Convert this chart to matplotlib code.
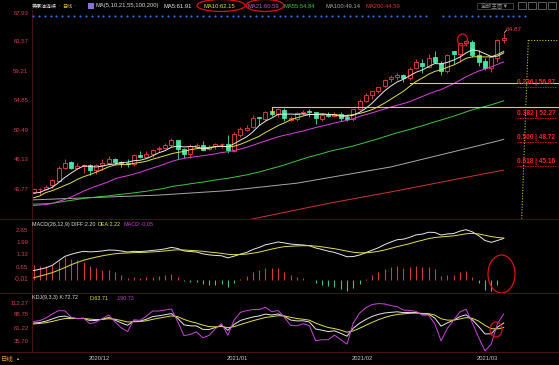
import numpy as np
import matplotlib
matplotlib.use('Agg')
import matplotlib.pyplot as plt
from matplotlib.patches import Rectangle, Ellipse
from matplotlib.lines import Line2D
from matplotlib.transforms import blended_transform_factory as btf

W, H = 559, 365
plt.rcParams['font.family'] = ['Liberation Sans', 'Noto Sans CJK SC', 'DejaVu Sans']

dates = (['2020/11/%02d' % d for d in (18, 19, 20, 23, 24, 25, 26, 27, 30)] +
         ['2020/12/%02d' % d for d in (1, 2, 3, 4, 7, 8, 9, 10, 11, 14, 15, 16, 17, 18, 21, 22, 23, 24, 28, 29, 30, 31)] +
         ['2021/01/%02d' % d for d in (4, 5, 6, 7, 8, 11, 12, 13, 14, 15, 18, 19, 20, 21, 22, 25, 26, 27, 28, 29)] +
         ['2021/02/%02d' % d for d in (1, 2, 3, 4, 5, 8, 9, 10, 11, 12, 15, 16, 17, 18, 19, 22, 23, 24, 25, 26)] +
         ['2021/03/%02d' % d for d in (1, 2, 3, 4, 5)])

opens = [41.43, 41.74, 41.77, 42.32, 43.04, 44.89, 45.75, 44.95, 45.20, 45.28, 44.57, 45.32, 45.71, 46.22, 45.76,
         45.61, 45.49, 46.80, 46.55, 47.00, 47.66, 47.84, 48.32, 49.00, 47.74, 46.93, 48.05, 48.27, 47.69, 48.09,
         48.38, 48.40, 47.40, 49.82, 50.52, 50.93, 52.45, 52.21, 53.33, 52.89, 53.48, 52.00, 52.11, 53.05, 53.31,
         53.19, 52.21, 52.72, 52.63, 52.90, 52.48, 52.21, 53.60, 54.78, 55.74, 56.29, 57.04, 58.05, 58.34, 58.67,
         58.27, 59.70, 60.40, 59.90, 61.24, 60.40, 59.23, 62.20, 61.74, 63.33, 63.55, 61.64, 60.70, 59.70, 61.19, 63.85]
highs = [42.00, 41.92, 42.42, 43.31, 45.20, 46.26, 45.95, 45.60, 45.56, 45.51, 45.56, 46.22, 46.63, 46.34, 45.95,
         46.16, 47.00, 47.39, 47.42, 47.75, 48.12, 48.59, 49.28, 49.09, 47.87, 48.50, 48.58, 48.96, 48.36, 48.58,
         48.59, 49.83, 50.20, 50.94, 51.28, 52.75, 52.48, 53.35, 53.93, 53.75, 53.77, 52.60, 53.18, 53.53, 53.58,
         53.19, 53.06, 53.22, 53.18, 53.13, 52.93, 53.69, 55.05, 55.95, 56.33, 56.94, 58.09, 58.62, 58.91, 58.87,
         59.82, 60.95, 60.95, 61.73, 62.26, 60.74, 61.77, 62.24, 63.38, 63.81, 63.79, 62.41, 61.21, 61.61, 64.00, 64.87]
lows = [41.20, 40.92, 41.61, 41.96, 42.93, 44.72, 44.80, 44.82, 44.20, 43.92, 43.96, 44.59, 45.35, 45.39, 45.08,
        45.10, 45.27, 46.34, 46.31, 46.60, 47.24, 47.70, 47.99, 46.16, 46.41, 46.42, 47.93, 47.50, 47.50, 47.76,
        47.93, 47.18, 47.26, 49.52, 50.40, 50.81, 51.28, 51.90, 52.62, 52.45, 51.90, 51.80, 51.79, 52.71, 52.45,
        51.44, 51.82, 52.38, 52.37, 51.92, 51.88, 51.88, 53.43, 54.59, 55.07, 56.05, 56.92, 57.67, 57.88, 57.66,
        57.89, 59.57, 59.00, 59.63, 60.47, 58.59, 58.98, 60.34, 60.60, 62.93, 61.32, 59.93, 59.41, 59.06, 60.63, 63.45]
closes = [41.82, 41.74, 42.15, 43.06, 44.91, 45.71, 44.92, 45.15, 45.34, 44.55, 45.28, 45.64, 46.26, 45.76, 45.60,
          45.52, 46.78, 46.57, 46.99, 47.62, 47.82, 48.36, 49.10, 47.74, 47.02, 48.12, 48.23, 47.62, 48.00, 48.40,
          48.52, 47.62, 49.93, 50.63, 50.83, 52.24, 52.25, 53.21, 52.91, 53.57, 52.36, 52.35, 52.98, 53.24, 53.13,
          52.27, 52.77, 52.61, 52.85, 52.34, 52.20, 53.55, 54.76, 55.69, 56.23, 56.85, 57.97, 58.36, 58.68, 58.24,
          59.47, 60.50, 60.05, 61.14, 60.52, 59.24, 61.60, 61.75, 63.35, 63.60, 61.65, 60.64, 59.75, 61.28, 63.83, 64.05]

ma5 = [41.17, 41.29, 41.70, 42.04, 42.74, 43.51, 44.15, 44.75, 45.21, 45.13, 45.05, 45.19, 45.41, 45.50, 45.71,
       45.76, 45.98, 46.05, 46.29, 46.70, 47.16, 47.47, 47.98, 48.13, 48.01, 48.07, 48.04, 47.75, 47.80, 48.07,
       48.15, 48.03, 48.49, 49.02, 49.51, 50.25, 51.18, 51.83, 52.29, 52.84, 52.86, 52.88, 52.83, 52.90, 52.81,
       52.79, 52.88, 52.80, 52.73, 52.57, 52.55, 52.71, 53.14, 53.71, 54.49, 55.42, 56.30, 57.02, 57.62, 58.02,
       58.54, 59.05, 59.39, 59.88, 60.34, 60.29, 60.51, 60.85, 61.29, 61.91, 62.39, 62.20, 61.80, 61.38, 61.43, 61.91]
ma10 = [40.49, 40.78, 41.28, 41.56, 41.92, 42.34, 42.72, 43.22, 43.62, 43.93, 44.28, 44.67, 45.08, 45.35, 45.42,
        45.40, 45.59, 45.73, 45.90, 46.20, 46.46, 46.73, 47.01, 47.21, 47.35, 47.61, 47.76, 47.86, 47.96, 48.04,
        48.11, 48.04, 48.12, 48.41, 48.79, 49.20, 49.60, 50.16, 50.65, 51.17, 51.56, 52.03, 52.33, 52.59, 52.82,
        52.83, 52.88, 52.82, 52.81, 52.69, 52.67, 52.79, 52.97, 53.22, 53.53, 53.98, 54.50, 55.08, 55.66, 56.25,
        56.98, 57.68, 58.20, 58.75, 59.18, 59.42, 59.78, 60.12, 60.59, 61.12, 61.34, 61.35, 61.32, 61.34, 61.67, 62.15]
ma21 = [39.36, 39.44, 39.51, 39.66, 39.97, 40.26, 40.62, 41.04, 41.50, 41.87, 42.23, 42.54, 42.89, 43.31, 43.56,
        43.76, 44.01, 44.27, 44.60, 44.90, 45.20, 45.51, 45.86, 46.13, 46.32, 46.47, 46.59, 46.72, 46.85, 47.00,
        47.19, 47.30, 47.50, 47.71, 47.95, 48.27, 48.59, 48.90, 49.20, 49.51, 49.74, 49.95, 50.17, 50.37, 50.63,
        50.88, 51.10, 51.31, 51.56, 51.76, 51.94, 52.18, 52.52, 52.80, 53.06, 53.35, 53.62, 53.91, 54.17, 54.43,
        54.71, 55.10, 55.46, 55.85, 56.20, 56.49, 56.93, 57.36, 57.87, 58.39, 58.83, 59.23, 59.53, 59.84, 60.22, 60.59]
ma55 = [39.57, 39.58, 39.62, 39.69, 39.84, 39.98, 40.12, 40.26, 40.41, 40.52, 40.61, 40.70, 40.79, 40.91, 41.02,
        41.12, 41.23, 41.35, 41.47, 41.62, 41.76, 41.93, 42.15, 42.30, 42.42, 42.57, 42.70, 42.82, 42.98, 43.13,
        43.26, 43.39, 43.55, 43.72, 43.89, 44.11, 44.32, 44.57, 44.83, 45.08, 45.35, 45.65, 45.96, 46.26, 46.54,
        46.78, 47.03, 47.31, 47.54, 47.74, 47.94, 48.16, 48.43, 48.69, 48.96, 49.23, 49.53, 49.82, 50.11, 50.35,
        50.60, 50.88, 51.15, 51.44, 51.73, 51.99, 52.28, 52.56, 52.88, 53.20, 53.50, 53.75, 53.99, 54.25, 54.54, 54.84]
ma100 = [40.20, 40.23, 40.27, 40.30, 40.34, 40.38, 40.41, 40.45, 40.48, 40.52, 40.55, 40.59, 40.62, 40.66, 40.69,
         40.73, 40.76, 40.80, 40.83, 40.87, 40.90, 40.96, 41.02, 41.08, 41.14, 41.20, 41.26, 41.32, 41.38, 41.44,
         41.50, 41.56, 41.66, 41.76, 41.86, 41.96, 42.06, 42.16, 42.26, 42.36, 42.46, 42.56, 42.66, 42.82, 42.98,
         43.14, 43.30, 43.46, 43.62, 43.78, 43.94, 44.10, 44.26, 44.42, 44.58, 44.74, 44.90, 45.06, 45.29, 45.51,
         45.74, 45.96, 46.19, 46.41, 46.64, 46.86, 47.09, 47.31, 47.54, 47.76, 47.99, 48.21, 48.44, 48.66, 48.89, 49.14]
ma200 = [34.60, 34.68, 34.76, 34.83, 34.91, 34.99, 35.07, 35.15, 35.22, 35.30, 35.38, 35.46, 35.54, 35.61, 35.69,
         35.77, 35.85, 35.93, 36.00, 36.08, 36.16, 36.24, 36.32, 36.39, 36.47, 36.55, 36.63, 36.71, 36.78, 36.86,
         36.94, 37.02, 37.10, 37.17, 37.20, 37.39, 37.58, 37.77, 37.96, 38.15, 38.34, 38.53, 38.72, 38.91, 39.10,
         39.29, 39.48, 39.67, 39.84, 40.01, 40.18, 40.35, 40.52, 40.69, 40.86, 41.03, 41.20, 41.37, 41.55, 41.73,
         41.91, 42.09, 42.27, 42.45, 42.63, 42.81, 42.99, 43.17, 43.35, 43.53, 43.71, 43.89, 44.07, 44.25, 44.42, 44.59]

diff = [0.48, 0.55, 0.63, 0.76, 1.00, 1.24, 1.35, 1.44, 1.51, 1.48, 1.50, 1.53, 1.58, 1.57, 1.53, 1.47, 1.51, 1.50,
        1.52, 1.56, 1.59, 1.64, 1.72, 1.66, 1.53, 1.50, 1.47, 1.38, 1.32, 1.29, 1.27, 1.16, 1.25, 1.36, 1.45, 1.61,
        1.72, 1.86, 1.93, 2.01, 1.96, 1.90, 1.87, 1.85, 1.81, 1.69, 1.61, 1.52, 1.45, 1.34, 1.22, 1.23, 1.31, 1.44,
        1.57, 1.70, 1.87, 2.01, 2.13, 2.16, 2.26, 2.39, 2.43, 2.53, 2.52, 2.38, 2.44, 2.46, 2.59, 2.67, 2.55, 2.35,
        2.09, 1.99, 2.09, 2.20]
dea = [0.09, 0.18, 0.27, 0.37, 0.50, 0.64, 0.79, 0.92, 1.03, 1.12, 1.20, 1.27, 1.33, 1.38, 1.41, 1.42, 1.44, 1.45,
       1.46, 1.48, 1.50, 1.53, 1.57, 1.59, 1.58, 1.56, 1.54, 1.51, 1.47, 1.44, 1.40, 1.35, 1.33, 1.34, 1.36, 1.41,
       1.47, 1.55, 1.63, 1.70, 1.76, 1.78, 1.80, 1.81, 1.81, 1.79, 1.75, 1.70, 1.65, 1.59, 1.52, 1.46, 1.43, 1.43,
       1.46, 1.51, 1.58, 1.67, 1.76, 1.84, 1.92, 2.02, 2.10, 2.19, 2.25, 2.28, 2.31, 2.34, 2.39, 2.45, 2.47, 2.44,
       2.37, 2.30, 2.25, 2.22]
macd = [0.78, 0.74, 0.72, 0.78, 1.00, 1.20, 1.12, 1.04, 0.96, 0.72, 0.60, 0.52, 0.50, 0.38, 0.24, 0.10, 0.14, 0.10,
        0.12, 0.16, 0.18, 0.22, 0.30, 0.14, -0.10, -0.12, -0.14, -0.26, -0.30, -0.30, -0.26, -0.38, -0.16, 0.04,
        0.18, 0.40, 0.50, 0.62, 0.60, 0.62, 0.40, 0.24, 0.14, 0.08, 0.00, -0.20, -0.28, -0.36, -0.40, -0.50, -0.60,
        -0.46, -0.24, 0.02, 0.22, 0.38, 0.58, 0.68, 0.74, 0.64, 0.68, 0.74, 0.66, 0.68, 0.54, 0.20, 0.26, 0.24, 0.40,
        0.44, 0.16, -0.18, -0.56, -0.62, -0.32, -0.05]
kdj_k = [72.5, 73.7, 76.4, 80.8, 85.0, 86.5, 82.6, 81.5, 81.9, 77.3, 77.8, 80.4, 83.6, 78.4, 72.9, 68.3, 76.5, 76.4,
         80.1, 85.4, 87.0, 89.1, 91.3, 81.9, 69.1, 67.1, 66.8, 60.2, 59.8, 63.8, 67.7, 58.4, 69.9, 77.7, 81.4, 84.6,
         86.7, 90.4, 88.5, 90.6, 85.9, 78.6, 76.8, 77.1, 74.7, 60.9, 58.4, 55.7, 57.3, 52.2, 46.6, 62.3, 72.2, 79.6,
         85.7, 89.8, 92.5, 93.8, 94.8, 93.3, 93.7, 93.5, 90.5, 90.2, 82.6, 66.5, 72.9, 78.2, 85.3, 88.9, 78.8, 65.6,
         51.1, 51.3, 64.5, 72.7]
kdj_d = [70.8, 71.8, 73.3, 75.8, 78.9, 81.4, 81.8, 81.7, 81.8, 80.3, 79.5, 79.8, 81.1, 80.2, 77.7, 74.6, 75.2, 75.6,
         77.1, 79.9, 82.3, 84.5, 86.8, 85.2, 79.8, 75.6, 72.7, 68.5, 65.6, 65.0, 65.9, 63.4, 65.6, 69.6, 73.5, 77.2,
         80.4, 83.7, 85.3, 87.1, 86.7, 84.0, 81.6, 80.1, 78.3, 72.5, 67.8, 63.8, 61.6, 58.5, 54.5, 57.1, 62.2, 68.0,
         73.9, 79.2, 83.6, 87.0, 89.6, 90.8, 91.8, 92.4, 91.7, 91.2, 88.4, 81.1, 78.4, 78.3, 80.7, 83.4, 81.9, 76.4,
         68.0, 61.5, 61.0, 63.7]
kdj_j = [75.8, 77.4, 82.6, 90.8, 97.1, 96.8, 84.3, 81.1, 82.2, 71.3, 74.5, 81.7, 88.7, 74.8, 63.2, 55.7, 79.0, 78.1,
         86.2, 96.4, 96.4, 98.3, 100.4, 75.4, 47.8, 50.0, 55.1, 43.5, 48.1, 61.4, 71.4, 48.4, 78.6, 93.8, 97.2, 99.3,
         99.4, 103.7, 95.0, 97.6, 84.3, 67.9, 67.2, 71.2, 67.5, 37.7, 39.6, 39.5, 48.7, 39.7, 30.9, 72.8, 92.3, 102.8,
         109.2, 111.1, 110.4, 107.3, 105.1, 98.3, 97.6, 95.7, 88.1, 88.2, 71.1, 37.4, 62.0, 78.1, 94.6, 99.8, 72.6,
         44.0, 17.4, 30.9, 71.5, 90.7]

price_ticks = [67.93, 63.57, 59.21, 54.85, 50.49, 46.13, 41.77]
macd_ticks = [2.65, 1.99, 1.32, 0.65, -0.01]
kdj_ticks = [112.27, 88.75, 61.22, 35.70]
fib_ratio = ['0.236', '0.382', '0.500', '0.618']
fib_price = [56.87, 52.27, 48.72, 45.16]
fib_top = 63.81
hlines = [(53.93, '2021/01/13'), (57.42, '2021/02/12')]
ma_labels = ['MA5:61.91', 'MA10:62.15', 'MA21:60.59', 'MA55:54.84', 'MA100:49.14', 'MA200:44.59']
macd_labels = ['MACD(26,12,9) DIFF:2.20', 'DEA:2.22', 'MACD:-0.05']
kdj_labels = ['KDJ(9,3,3) K:72.72', 'D:63.71', 'J:90.73']

X0, DX = 33.5, 6.27
def fx(px): return px / W
def fy(py): return 1 - py / H

fig = plt.figure(figsize=(W / 100, H / 100), dpi=100, facecolor='black')
fits = []
def ftext(px, py, s, color, width=None, size=4.0, ha='left', va='center', **kw):
    t = fig.text(fx(px), fy(py), s, color=color, fontsize=size, ha=ha, va=va, **kw)
    if width:
        fits.append((t, width))
    return t

def add_ax(y0, y1, ylim):
    ax = fig.add_axes([32 / W, 1 - y1 / H, (W - 32) / W, (y1 - y0) / H])
    ax.set_facecolor('black'); ax.axis('off')
    ax.set_xlim((32 - X0) / DX, (W - X0) / DX); ax.set_ylim(*ylim)
    return ax

axm = add_ax(12.2, 218.7, (37.41, 67.93))
axd = add_ax(219, 293, (-0.722, 3.24))
axk = add_ax(293, 352, (15.3, 132.06))
x = np.arange(len(dates))

border = '#4a1010'
for py in (219, 293, 352):
    fig.add_artist(Line2D([0, 1], [fy(py)] * 2, color=border, lw=0.8))
fig.add_artist(Line2D([fx(31.5)] * 2, [fy(10), fy(352)], color=border, lw=0.8))

# candles
up_c, dn_c = '#ff3b3b', '#45e3a6'
for i in x:
    o, h, l, c = opens[i], highs[i], lows[i], closes[i]
    if c >= o:
        axm.vlines(i, c, h, color=up_c, lw=0.6); axm.vlines(i, l, o, color=up_c, lw=0.6)
        axm.add_patch(Rectangle((i - 0.32, o), 0.64, max(c - o, 0.02), fc='black', ec=up_c, lw=0.6, zorder=3))
    else:
        axm.vlines(i, l, h, color=dn_c, lw=0.6)
        axm.add_patch(Rectangle((i - 0.32, c), 0.64, o - c, fc=dn_c, ec=dn_c, lw=0.6, zorder=3))
for arr, col in [(ma200, '#d83030'), (ma100, '#a8a8a8'), (ma55, '#3cc83c'), (ma21, '#e040e0'),
                 (ma10, '#e0e040'), (ma5, '#e8e8e8')]:
    axm.plot(x, arr, color=col, lw=0.7, zorder=4)

# user drawn horizontal lines
ycol = '#d8d830'
for lvl, dstart in hlines:
    i0 = dates.index(dstart)
    axm.plot([i0, (W - X0) / DX], [lvl, lvl], color=ycol, lw=0.8, zorder=5)
axm.plot([dates.index(hlines[0][1])] * 2, [hlines[0][0], hlines[0][0] - 0.9], color=ycol, lw=0.8, zorder=5)

# fibonacci tool
fx0 = (528.3 - X0) / DX; fx1 = (521.7 - X0) / DX
axm.plot([fx0, fx1], [fib_top, 37.41], color='#c8c820', lw=0.8, ls=(0, (1, 1.5)), zorder=5)
axm.plot([fx0, (W - X0) / DX], [fib_top, fib_top], color='#c8c820', lw=0.8, ls=(0, (1, 1.5)), zorder=5)
tr_m = btf(fig.transFigure, axm.transData)
for r, p in zip(fib_ratio, fib_price):
    axm.plot([(517 - X0) / DX, (556 - X0) / DX], [p, p], color='#e01818', lw=0.6, ls=(0, (2, 1)), zorder=5)
    t = axm.text(fx(517), p + 0.2, f'{r} | {p:.2f}', transform=tr_m, color='#ff2020', fontsize=4,
                 ha='left', va='bottom', fontweight='bold', zorder=6)
    fits.append((t, 38))

ih = int(np.argmax(highs))
t = axm.text(fx(506), highs[ih] + 0.55, f'{highs[ih]:.2f}', transform=tr_m, color='#e8405a', fontsize=4,
             ha='left', va='center')
fits.append((t, 16))
axm.plot([ih + 0.1, ih + 0.45], [highs[ih] + 0.05, highs[ih] + 0.4], color='#e0e0e0', lw=0.5)

# MACD
axd.vlines(x, 0, macd, colors=['#d83838' if v >= 0 else '#3cbf98' for v in macd], lw=0.8)
axd.plot(x, diff, color='#e8e8e8', lw=0.7); axd.plot(x, dea, color='#e0e040', lw=0.7)
# KDJ
axk.plot(x, kdj_k, color='#e8e8e8', lw=0.7); axk.plot(x, kdj_d, color='#e0e040', lw=0.7)
axk.plot(x, kdj_j, color='#d040e0', lw=0.7)

# y tick labels
tcol = '#d23c50'
for ax, ticks in ((axm, price_ticks), (axd, macd_ticks), (axk, kdj_ticks)):
    tr = btf(fig.transFigure, ax.transData)
    for v in ticks:
        yy = v - (0.25 if (ax is axm and v == price_ticks[0]) else 0)
        s = f'{v:.2f}'
        t = ax.text(fx(28.5), yy, s, transform=tr, color=tcol, fontsize=4, ha='right', va='center', clip_on=False)
        fits.append((t, 3.0 * len(s)))

# month labels
seen = set()
for i, ds in enumerate(dates):
    m = ds[:7]
    if m not in seen:
        seen.add(m)
        if i == 0:
            continue
        ftext(X0 + DX * i - 1.5, 358, m, '#c8c8c8', width=21)
ftext(1, 359.5, '日线', '#e8a030', size=4.6)
ftext(15.5, 359.5, '▲', '#e8a030', size=3.0)

# header
ftext(32, 6, '美原油连续', '#e0e0e0', width=25)
ftext(58.5, 6, '·', '#e0e0e0')
ftext(62, 6, '日线', '#e8c040', width=10)
ftext(73, 6, '·', '#e0e0e0')
fig.add_artist(Rectangle((fx(88), fy(9)), 6 / W, 6 / H, transform=fig.transFigure, fc='#8a70d0', ec='none'))
HS = 4.2
ftext(96, 6, 'MA(5,10,21,55,100,200)', '#d8d8d8', size=HS)
for px, col, s in zip((163, 204, 248, 284, 325, 366),
                      ('#e8e8e8', '#e0e040', '#d050d0', '#3cc83c', '#a8a8a8', '#e03030'), ma_labels):
    ftext(px, 6, s, col, size=HS)
fig.add_artist(Rectangle((fx(477), fy(9)), 36 / W, 6.5 / H, transform=fig.transFigure, fill=False, ec='#555555', lw=0.5))
ftext(495, 5.7, '全部主图▼', '#8a8a8a', ha='center', width=28)
for bx in (518, 528, 538, 548):
    fig.add_artist(Rectangle((fx(bx), fy(9)), 8 / W, 7 / H, transform=fig.transFigure, fill=False, ec='#808080', lw=0.5))
xs = np.concatenate([np.arange(33, 429, 5.87), np.arange(443, 528, 5.87)])
fig.add_artist(Line2D(xs / W, np.full(len(xs), fy(16)), ls='none', marker='o', ms=1.5, mew=0, color='#1f7bff'))

SS = 3.9
for px, col, s in zip((32, 97, 123), ('#e0e0e0', '#e0e040', '#c040d0'), macd_labels):
    ftext(px, 224.5, s, col, size=SS)
for px, col, s in zip((32, 90, 117), ('#e0e0e0', '#e0e040', '#c040d0'), kdj_labels):
    ftext(px, 298, s, col, size=SS)

# red hand-drawn marks
def ell(cx, cy, w, h):
    fig.add_artist(Ellipse((fx(cx), fy(cy)), w / W, h / H, transform=fig.transFigure, fill=False, ec='#e01010', lw=0.9))
ell(221, 5.5, 48, 12)
ell(265, 5.5, 38, 12)
ell(462.5, 40, 10, 12)
ell(501.5, 274, 27, 38)
ell(496, 329.5, 12, 15)

r = fig.canvas.get_renderer()
for t, w in fits:
    bw = t.get_window_extent(r).width
    if bw > 0:
        t.set_fontsize(t.get_fontsize() * w / bw)

fig.savefig('out.png', dpi=100, facecolor='black')
